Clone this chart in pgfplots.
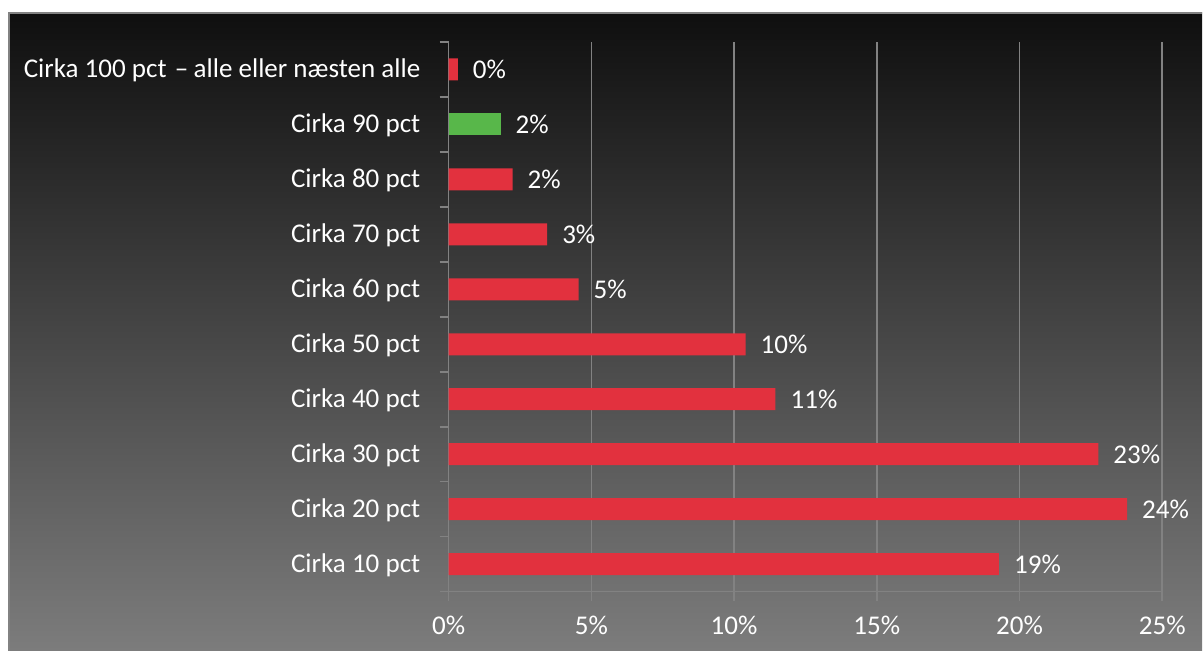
\documentclass[border=0pt]{standalone}
\usepackage{pgfplots}
\usepackage{pgfplotstable}
\pgfplotsset{compat=1.18}
\usepackage{fontspec}
\setmainfont{Carlito}
\definecolor{barred}{RGB}{226,49,62}
\definecolor{bargreen}{RGB}{88,183,74}
\definecolor{gridgray}{RGB}{130,130,130}
\definecolor{bgtop}{RGB}{15,15,15}
\definecolor{bgbot}{RGB}{124,124,124}

\pgfplotstableread{
y x lab
1 19.28 19
2 23.77 24
3 22.76 23
4 11.45 11
5 10.40 10
6 4.55 5
7 3.45 3
8 2.24 2
10 0.32 0
}\reddata
\pgfplotstableread{
y x lab
9 1.82 2
}\greendata

\begin{document}
\begin{tikzpicture}[font=\fontsize{20.3pt}{23pt}\selectfont]
\fill[white] (0,0) rectangle (902.25pt,-488.25pt);
\shade[top color=bgtop, bottom color=bgbot] (6.75pt,-9.75pt) rectangle (902.25pt,-488.25pt);
\draw[gridgray, line width=1.2pt] (6.75pt,-488.25pt) -- (6.75pt,-9.75pt) -- (902.25pt,-9.75pt);
\begin{axis}[
  at={(336.75pt,-444pt)}, anchor=south west,
  scale only axis, width=535.5pt, height=412.5pt,
  xmin=0, xmax=25, ymin=0.5, ymax=10.5,
  xbar, bar width=16.5pt, bar shift=0pt,
  axis x line=bottom, axis y line=left,
  axis line style={-, gridgray, line width=1.2pt},
  xmajorgrids, major grid style={gridgray, line width=1.2pt},
  xtick={0,5,...,25}, xticklabels={0\%,5\%,10\%,15\%,20\%,25\%},
  minor xtick={0,5,...,25},
  ytick={1,...,10},
  yticklabels={Cirka 10 pct,Cirka 20 pct,Cirka 30 pct,Cirka 40 pct,Cirka 50 pct,Cirka 60 pct,Cirka 70 pct,Cirka 80 pct,Cirka 90 pct,{Cirka 100 pct\hspace{0.3em}–\hspace{0.2em}alle eller næsten alle}},
  minor ytick={0.5,1.5,...,10.5},
  tick align=outside,
  major tick length=0pt, minor tick length=6.75pt,
  tick style={gridgray, line width=1.2pt},
  tick label style={white},
  yticklabel style={xshift=-17.8pt, yshift=-1pt},
  xticklabel style={yshift=-15pt},
  point meta=explicit symbolic,
  nodes near coords={\pgfplotspointmeta\%},
  every node near coord/.append style={white, anchor=west, xshift=7.8pt},
]
\addplot[fill=barred, draw=none] table[x=x,y=y,meta=lab]{\reddata};
\addplot[fill=bargreen, draw=none] table[x=x,y=y,meta=lab]{\greendata};
\end{axis}
\end{tikzpicture}
\end{document}
